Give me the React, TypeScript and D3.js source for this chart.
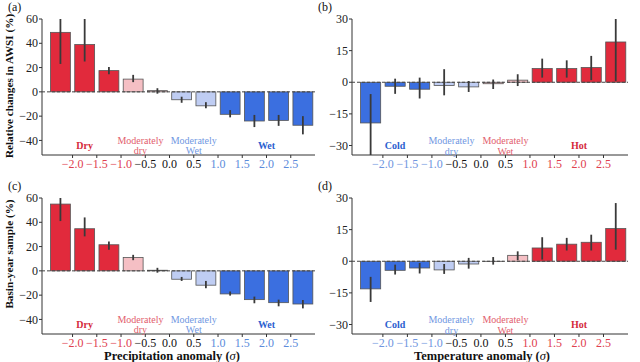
import React from "react";
import * as d3 from "d3";

// anomaly bins (bar centres) and x tick values
const binCenters = [-2.25, -1.75, -1.25, -0.75, -0.25, 0.25, 0.75, 1.25, 1.75, 2.25, 2.75];
const xTicks = [-2.0, -1.5, -1.0, -0.5, 0.0, 0.5, 1.0, 1.5, 2.0, 2.5];

// (a) relative change in AWSI vs precipitation anomaly
const awsiPrecip = [49, 39, 17.5, 10.5, 1, -6.5, -11.5, -18.5, -24, -23.5, -27.5];
const awsiPrecipLo = [23, 25, 14.5, 8, -1.5, -9, -13.5, -21, -29, -28, -35];
const awsiPrecipHi = [60, 60, 20.5, 14, 3, -4, -8.5, -15, -19, -19, -20];

// (b) relative change in AWSI vs temperature anomaly
const awsiTemp = [-19.3, -1.9, -3.3, -1.5, -2.2, -0.7, 1.0, 6.5, 6.5, 7.0, 19.1];
const awsiTempLo = [-36, -5.5, -7.7, -6.2, -4.6, -3.2, -1.8, 2.2, 2.2, 1.0, 0.5];
const awsiTempHi = [-5.6, 1.7, 2.2, 6.2, 0.6, 1.3, 3.8, 11.2, 10.4, 12.5, 30];

// (c) basin-year sample vs precipitation anomaly
const samplePrecip = [55, 34.7, 21.5, 11, 0.5, -6.9, -11.8, -19, -23.7, -26.2, -27.3];
const samplePrecipLo = [41, 28.4, 17.4, 8.8, -1.5, -8.3, -14.3, -20.4, -26.7, -29.2, -30.9];
const samplePrecipHi = [60, 44, 24.2, 13.2, 2.5, -5, -8.3, -17, -21.2, -23.7, -24];

// (d) basin-year sample vs temperature anomaly
const sampleTemp = [-13.1, -4.3, -3.2, -4.1, -1.3, -0.1, 2.8, 6.3, 8.1, 9.0, 15.5];
const sampleTempLo = [-19.3, -6.3, -5.8, -6.0, -3.5, -1.6, 0.5, 0.8, 5.1, 5.1, 5.5];
const sampleTempHi = [-7.4, -1.6, -0.8, -1.3, 1.6, 2.0, 4.7, 11.4, 11.1, 12.6, 27.6];

const RED = "#e12a3c";
const LRED = "#f5bfc4";
const LBLUE = "#bfcdf3";
const BLUE = "#3b6fe0";

const precipFill = [RED, RED, RED, LRED, LRED, LBLUE, LBLUE, BLUE, BLUE, BLUE, BLUE];
const tempFill = [BLUE, BLUE, BLUE, LBLUE, LBLUE, LRED, LRED, RED, RED, RED, RED];

const precipTickColor = ["#e0404f", "#e0404f", "#e0404f", "#111", "#111", "#111", "#5b8bdb", "#5b8bdb", "#5b8bdb", "#5b8bdb"];
const tempTickColor = ["#6f96e0", "#6f96e0", "#6f96e0", "#111", "#111", "#111", "#e0404f", "#e0404f", "#e0404f", "#e0404f"];

const precipYTicks = [60, 40, 20, 0, -20, -40];
const tempYTicks = [30, 15, 0, -15, -30];

type Cat = { x: number; lines: string[]; color: string; bold: boolean };
const precipCats: Cat[] = [
  { x: -1.75, lines: ["Dry"], color: "#d42a3a", bold: true },
  { x: -0.6, lines: ["Moderately", "dry"], color: "#e2606e", bold: false },
  { x: 0.5, lines: ["Moderately", "Wet"], color: "#7097e2", bold: false },
  { x: 2.0, lines: ["Wet"], color: "#2c5fd0", bold: true },
];
const tempCats: Cat[] = [
  { x: -1.75, lines: ["Cold"], color: "#2c5fd0", bold: true },
  { x: -0.6, lines: ["Moderately", "dry"], color: "#7097e2", bold: false },
  { x: 0.5, lines: ["Moderately", "Wet"], color: "#e2606e", bold: false },
  { x: 2.0, lines: ["Hot"], color: "#d42a3a", bold: true },
];

const FONT = "Liberation Serif, DejaVu Serif, serif";
const fmtX = (v: number) => (v < 0 ? "\u2212" : "") + Math.abs(v).toFixed(1);
const fmtY = (v: number) => (v < 0 ? "\u2212" : "") + Math.abs(v);

interface PanelProps {
  label: string;
  x0: number;
  x1: number;
  y0: number;
  y1: number;
  yDomain: [number, number];
  yTicks: number[];
  vals: number[];
  lo: number[];
  hi: number[];
  fills: string[];
  tickColors: string[];
  cats: Cat[];
  catY: number;
}

const Panel: React.FC<PanelProps> = (p) => {
  const x = d3.scaleLinear().domain([-2.63, 3.0]).range([p.x0, p.x1]);
  const y = d3.scaleLinear().domain(p.yDomain).range([p.y1, p.y0]);
  const bw = x(0.41) - x(0);
  return (
    <g>
      <text x={p.x0 - 34} y={p.y0 - 8} fontSize={12} fill="#111">{p.label}</text>
      {/* axes */}
      <line x1={p.x0} x2={p.x0} y1={p.y0} y2={p.y1} stroke="#333" />
      <line x1={p.x0} x2={p.x1} y1={p.y1} y2={p.y1} stroke="#333" />
      {p.yTicks.map((t) => (
        <g key={t}>
          <line x1={p.x0 - 3} x2={p.x0} y1={y(t)} y2={y(t)} stroke="#333" />
          <text x={p.x0 - 4} y={y(t)} dy="0.35em" textAnchor="end" fontSize={12} fill="#222">{fmtY(t)}</text>
        </g>
      ))}
      {xTicks.map((t, i) => (
        <g key={t}>
          <line x1={x(t)} x2={x(t)} y1={p.y1} y2={p.y1 + 3} stroke="#333" />
          <text x={x(t)} y={p.y1 + 13} textAnchor="middle" fontSize={12} fill={p.tickColors[i]}>{fmtX(t)}</text>
        </g>
      ))}
      {/* bars */}
      {binCenters.map((c, i) => (
        <rect key={c} x={x(c) - bw / 2} width={bw}
          y={Math.min(y(p.vals[i]), y(0))} height={Math.abs(y(p.vals[i]) - y(0))}
          fill={p.fills[i]} stroke="#555" strokeWidth={0.8} />
      ))}
      <line x1={p.x0} x2={p.x1} y1={y(0)} y2={y(0)} stroke="#444" strokeDasharray="3,2" />
      {binCenters.map((c, i) => (
        <line key={c} x1={x(c)} x2={x(c)}
          y1={y(Math.max(p.lo[i], p.yDomain[0]))} y2={y(Math.min(p.hi[i], p.yDomain[1]))}
          stroke="#3a3a3a" strokeWidth={1.8} />
      ))}
      {p.cats.map((c) => (
        <text key={c.lines.join()} x={x(c.x)} y={y(p.catY)} textAnchor="middle" fontSize={10}
          fontWeight={c.bold ? "bold" : "normal"} fill={c.color}>
          {c.lines.map((l, k) => (
            <tspan key={k} x={x(c.x)} dy={k === 0 ? (c.lines.length > 1 ? "-0.15em" : "0.35em") : "1.05em"}>{l}</tspan>
          ))}
        </text>
      ))}
    </g>
  );
};

export default function App() {
  return (
    <svg width={640} height={362}
      style={{ position: "absolute", left: 0, top: 0, background: "#fff", fontFamily: FONT }}>
      <Panel label="(a)" x0={42} x1={315} y0={19} y1={155} yDomain={[-52, 60]} yTicks={precipYTicks}
        vals={awsiPrecip} lo={awsiPrecipLo} hi={awsiPrecipHi} fills={precipFill}
        tickColors={precipTickColor} cats={precipCats} catY={-44} />
      <Panel label="(b)" x0={352} x1={628} y0={19} y1={155} yDomain={[-34.5, 30]} yTicks={tempYTicks}
        vals={awsiTemp} lo={awsiTempLo} hi={awsiTempHi} fills={tempFill}
        tickColors={tempTickColor} cats={tempCats} catY={-30} />
      <Panel label="(c)" x0={42} x1={315} y0={198} y1={334} yDomain={[-52, 60]} yTicks={precipYTicks}
        vals={samplePrecip} lo={samplePrecipLo} hi={samplePrecipHi} fills={precipFill}
        tickColors={precipTickColor} cats={precipCats} catY={-44} />
      <Panel label="(d)" x0={352} x1={628} y0={198} y1={334} yDomain={[-34.5, 30]} yTicks={tempYTicks}
        vals={sampleTemp} lo={sampleTempLo} hi={sampleTempHi} fills={tempFill}
        tickColors={tempTickColor} cats={tempCats} catY={-30} />
      <g fontWeight="bold" fill="#111">
        <text transform="translate(13,86) rotate(-90)" textAnchor="middle" fontSize={11.2}>Relative changes in AWSI (%)</text>
        <text transform="translate(13,254) rotate(-90)" textAnchor="middle" fontSize={11.2}>Basin-year sample (%)</text>
        <text x={172} y={360} textAnchor="middle" fontSize={12.5}>
          Precipitation anomaly (<tspan fontStyle="italic" fontWeight="normal">σ</tspan>)
        </text>
        <text x={482} y={360} textAnchor="middle" fontSize={12.5}>
          Temperature anomaly (<tspan fontStyle="italic" fontWeight="normal">σ</tspan>)
        </text>
      </g>
    </svg>
  );
}
